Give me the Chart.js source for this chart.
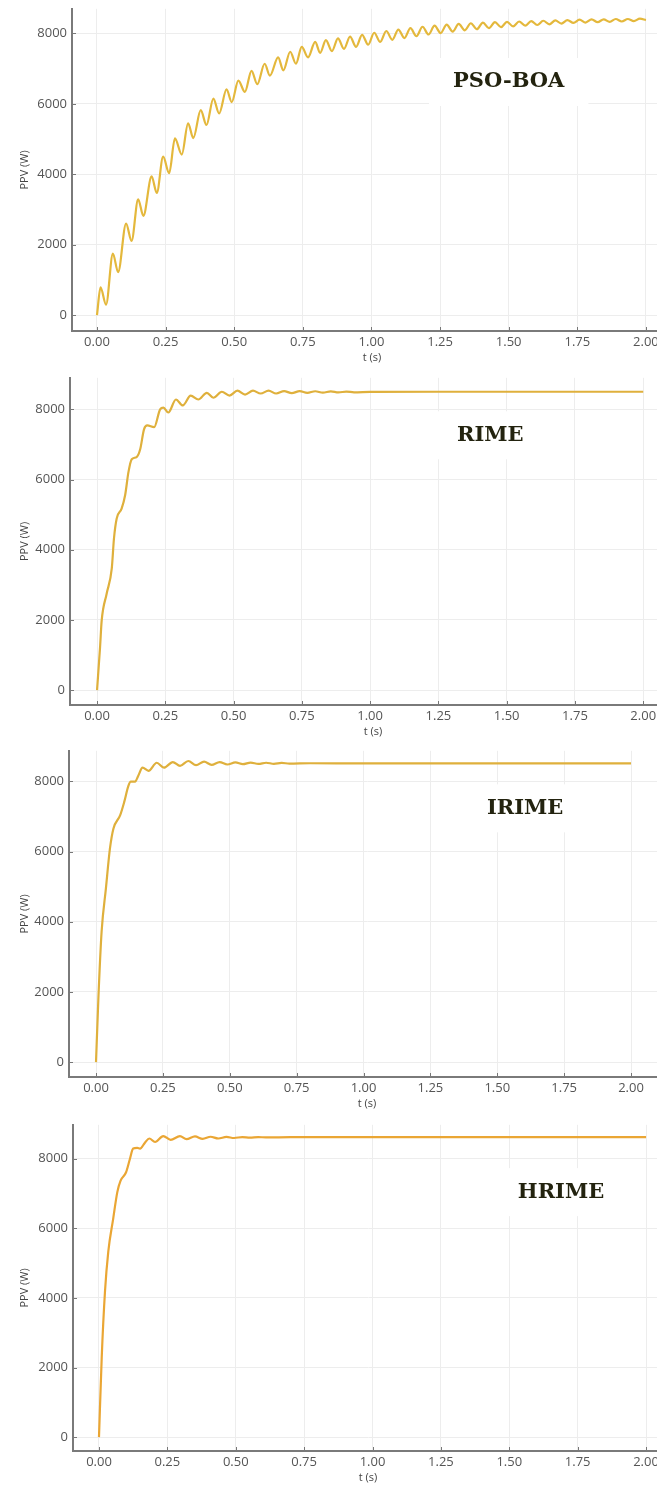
<!DOCTYPE html>
<html>
<head>
<meta charset="utf-8">
<title>PPV response</title>
<script src="https://cdn.jsdelivr.net/npm/chart.js@4.4.1/dist/chart.umd.min.js"></script>
<style>
  html, body { margin: 0; padding: 0; background: #fff; overflow: hidden; width: 657px; height: 1497px; }
  canvas { position: absolute; left: 0; }
</style>
</head>
<body>
<canvas id="c1"></canvas>
<canvas id="c2"></canvas>
<canvas id="c3"></canvas>
<canvas id="c4"></canvas>
<script>
// tick labels
const xTicks = [0, 0.25, 0.5, 0.75, 1.0, 1.25, 1.5, 1.75, 2.0];
const yTicks = [0, 2000, 4000, 6000, 8000];
const methodNames = ['PSO-BOA', 'RIME', 'IRIME', 'HRIME'];

// PSO-BOA : t (s) / PPV (W), peaks and troughs
const psoTime = [0, 0.013, 0.033, 0.058, 0.077, 0.106, 0.126, 0.150, 0.169, 0.199, 0.218, 0.241, 0.263, 0.284,
  0.309, 0.332, 0.351, 0.378, 0.399, 0.424, 0.445, 0.472, 0.491, 0.515, 0.539, 0.563, 0.584, 0.611, 0.630,
  0.660, 0.679, 0.704, 0.725, 0.746, 0.769, 0.795, 0.813, 0.834, 0.856, 0.878, 0.900, 0.922, 0.944, 0.966,
  0.988, 1.010, 1.032, 1.054, 1.076, 1.098, 1.120, 1.142, 1.164, 1.186, 1.208, 1.230, 1.252, 1.274, 1.296,
  1.318, 1.340, 1.362, 1.384, 1.406, 1.428, 1.450, 1.472, 1.494, 1.516, 1.538, 1.560, 1.582, 1.604, 1.626,
  1.648, 1.670, 1.692, 1.714, 1.736, 1.758, 1.780, 1.802, 1.824, 1.846, 1.868, 1.890, 1.912, 1.934, 1.956,
  1.978, 2.000];
const psoPower = [0, 790, 300, 1750, 1220, 2600, 2110, 3290, 2820, 3940, 3470, 4500, 4030, 5020,
  4560, 5450, 5030, 5820, 5400, 6150, 5730, 6410, 6050, 6660, 6340, 6940, 6560, 7140, 6800,
  7320, 6950, 7480, 7140, 7620, 7320, 7760, 7450, 7810, 7500, 7860, 7560, 7910, 7620, 7960,
  7680, 8020, 7760, 8070, 7820, 8110, 7870, 8150, 7920, 8190, 7970, 8220, 8010, 8250, 8050,
  8270, 8090, 8290, 8120, 8310, 8150, 8320, 8180, 8330, 8200, 8340, 8220, 8350, 8240, 8360,
  8260, 8370, 8280, 8380, 8300, 8390, 8310, 8400, 8320, 8400, 8330, 8410, 8340, 8410, 8350,
  8420, 8380];

// RIME
const rimeTime = [0, 0.011, 0.017, 0.035, 0.054, 0.062, 0.072, 0.090, 0.103, 0.115, 0.127, 0.145, 0.158,
  0.172, 0.184, 0.209, 0.231, 0.243, 0.261, 0.289, 0.314, 0.343, 0.371, 0.402, 0.426, 0.457, 0.485, 0.514,
  0.542, 0.571, 0.599, 0.628, 0.656, 0.685, 0.713, 0.742, 0.770, 0.799, 0.827, 0.856, 0.884, 0.913, 0.941,
  1.0, 1.25, 1.5, 1.75, 2.0];
const rimePower = [0, 1215, 1980, 2740, 3470, 4320, 4890, 5170, 5560, 6210, 6580, 6640, 6860,
  7430, 7540, 7490, 8000, 8050, 7910, 8280, 8110, 8390, 8280, 8470, 8330, 8500, 8390, 8530,
  8420, 8530, 8450, 8530, 8450, 8520, 8460, 8520, 8470, 8515, 8475, 8510, 8480, 8505, 8485,
  8495, 8500, 8500, 8500, 8500];

// IRIME
const irimeTime = [0, 0.009, 0.021, 0.037, 0.052, 0.065, 0.090, 0.105, 0.121, 0.130, 0.146, 0.158, 0.174,
  0.196, 0.227, 0.254, 0.287, 0.314, 0.345, 0.374, 0.404, 0.432, 0.462, 0.491, 0.521, 0.549, 0.578, 0.607,
  0.636, 0.665, 0.694, 0.723, 0.80, 1.0, 1.25, 1.5, 1.75, 2.0];
const irimePower = [0, 1850, 3730, 4950, 6080, 6650, 7030, 7400, 7870, 7990, 7990, 8160, 8390,
  8300, 8530, 8390, 8550, 8440, 8580, 8460, 8560, 8470, 8550, 8480, 8540, 8490, 8535, 8495,
  8530, 8500, 8525, 8505, 8515, 8510, 8510, 8510, 8510, 8510];

// HRIME
const hrimeTime = [0, 0.010, 0.022, 0.034, 0.052, 0.067, 0.079, 0.099, 0.113, 0.125, 0.140, 0.150, 0.168,
  0.184, 0.205, 0.235, 0.262, 0.296, 0.320, 0.351, 0.379, 0.408, 0.436, 0.466, 0.494, 0.524, 0.552, 0.582,
  0.61, 0.70, 1.0, 1.25, 1.5, 1.75, 2.0];
const hrimePower = [0, 2290, 4190, 5330, 6280, 7040, 7370, 7610, 7990, 8290, 8310, 8290, 8460,
  8580, 8480, 8650, 8540, 8650, 8560, 8640, 8570, 8630, 8580, 8625, 8595, 8622, 8605, 8620,
  8612, 8618, 8620, 8620, 8620, 8620, 8620];

// where each method name sits, in data units (t, PPV)
const nameSpots = [[1.5, 6620], [1.44, 7260], [1.604, 7230], [1.689, 7040]];

// layout of the four stacked panels (page pixels) and axis ranges
var panels = [
  { id: 'c1', time: psoTime, power: psoPower, color: '#e4b83c', top: 6, bottom: 331, left: 72, right: 672,
    xMin: -0.091, xMax: 2.095, yMin: -450, yMax: 8700 },
  { id: 'c2', time: rimeTime, power: rimePower, color: '#dfb03c', top: 375, bottom: 705, left: 70, right: 676,
    xMin: -0.099, xMax: 2.12, yMin: -424, yMax: 8898 },
  { id: 'c3', time: irimeTime, power: irimePower, color: '#dfb03c', top: 748, bottom: 1077, left: 69, right: 665,
    xMin: -0.101, xMax: 2.127, yMin: -424, yMax: 8870 },
  { id: 'c4', time: hrimeTime, power: hrimePower, color: '#eaa634', top: 1122, bottom: 1451, left: 73, right: 663,
    xMin: -0.095, xMax: 2.062, yMin: -399, yMax: 8974 }
];

var padTop = 10, padLeft = 12, padRight = 8, xAxisH = 40;
var tickFont = { family: 'Open Sans', size: 13 };
var titleFont = { family: 'Open Sans', size: 11 };

// method name with white box + small inward tick marks
const panelDecor = {
  id: 'panelDecor',
  beforeDatasetsDraw(chart, args, opts) {
    var ctx = chart.ctx, xs = chart.scales.x, ys = chart.scales.y;
    var px = xs.getPixelForValue(opts.at[0]);
    var py = ys.getPixelForValue(opts.at[1]);
    ctx.save();
    ctx.font = 'bold 21px "DejaVu Serif"';
    var w = ctx.measureText(opts.text).width;
    ctx.fillStyle = '#ffffff';
    ctx.fillRect(px - w / 2 - 24, py - 24, w + 48, 48);
    ctx.fillStyle = '#23230f';
    ctx.textAlign = 'center';
    ctx.textBaseline = 'middle';
    ctx.fillText(opts.text, px, py);
    ctx.restore();
  },
  afterDraw(chart) {
    var ctx = chart.ctx, xs = chart.scales.x, ys = chart.scales.y, a = chart.chartArea;
    ctx.save();
    ctx.strokeStyle = '#777';
    ctx.lineWidth = 1;
    ctx.beginPath();
    xTicks.forEach(function (v) {
      var px = Math.round(xs.getPixelForValue(v)) + 0.5;
      ctx.moveTo(px, a.bottom - 1);
      ctx.lineTo(px, a.bottom - 4);
    });
    yTicks.forEach(function (v) {
      var py = Math.round(ys.getPixelForValue(v)) + 0.5;
      ctx.moveTo(a.left + 1, py);
      ctx.lineTo(a.left + 4, py);
    });
    ctx.stroke();
    ctx.restore();
  }
};

panels.forEach(function (p, i) {
  var canvas = document.getElementById(p.id);
  var w = p.right + padRight;
  var h = padTop + (p.bottom - p.top) + xAxisH;
  canvas.width = w;
  canvas.height = h;
  canvas.style.width = w + 'px';
  canvas.style.height = h + 'px';
  canvas.style.top = (p.top - padTop) + 'px';

  var points = p.time.map(function (t, k) { return { x: t, y: p.power[k] }; });

  new Chart(canvas, {
    type: 'line',
    data: {
      datasets: [{
        data: points,
        borderColor: p.color,
        borderWidth: 2.2,
        pointRadius: 0,
        fill: false,
        cubicInterpolationMode: 'monotone'
      }]
    },
    options: {
      responsive: false,
      animation: false,
      layout: { padding: { top: padTop, left: padLeft, right: padRight, bottom: 0 } },
      plugins: {
        legend: { display: false },
        tooltip: { enabled: false },
        panelDecor: { text: methodNames[i], at: nameSpots[i] }
      },
      scales: {
        x: {
          type: 'linear',
          min: p.xMin,
          max: p.xMax,
          afterBuildTicks: function (s) { s.ticks = xTicks.map(function (v) { return { value: v }; }); },
          afterFit: function (s) { s.height = xAxisH; },
          grid: { color: '#ededed', lineWidth: 1, drawTicks: false },
          border: { color: '#7a7a7a', width: 2 },
          ticks: {
            padding: 3, color: '#555', font: tickFont, maxRotation: 0, autoSkip: false,
            callback: function (v) { return Number(v).toFixed(2); }
          },
          title: { display: true, text: 't (s)', color: '#444', font: titleFont, padding: { top: 0, bottom: 7 } }
        },
        y: {
          min: p.yMin,
          max: p.yMax,
          afterBuildTicks: function (s) { s.ticks = yTicks.map(function (v) { return { value: v }; }); },
          afterFit: function (s) { s.width = p.left - padLeft; },
          grid: { color: '#ededed', lineWidth: 1, drawTicks: false },
          border: { color: '#7a7a7a', width: 2 },
          ticks: {
            padding: 5, color: '#555', font: tickFont, autoSkip: false,
            callback: function (v) { return String(v); }
          },
          title: { display: true, text: 'PPV (W)', color: '#444', font: titleFont, padding: { top: 6, bottom: 0 } }
        }
      }
    },
    plugins: [panelDecor]
  });
});
</script>
</body>
</html>
